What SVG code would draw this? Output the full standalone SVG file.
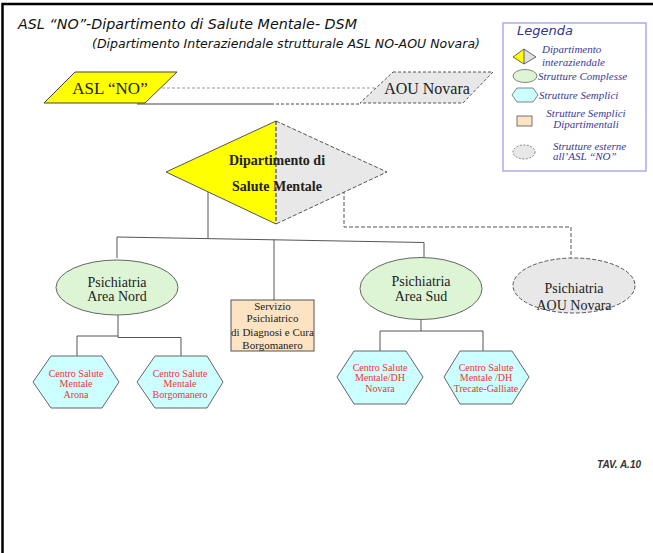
<svg xmlns="http://www.w3.org/2000/svg" width="653" height="553" viewBox="0 0 653 553">
<style>
.ln{fill:none;stroke:#555;stroke-width:1}
.dl{fill:none;stroke:#555;stroke-width:1;stroke-dasharray:4,2}
.nt{font-family:"Liberation Serif","Times New Roman",serif;fill:#222;text-anchor:middle}
.hx{fill:#CCFFFF;stroke:#666;stroke-width:1}
.ht{font-family:"Liberation Serif","Times New Roman",serif;fill:#EE3333;font-size:10px;text-anchor:middle}
.ell{fill:#DDF5D5;stroke:#666;stroke-width:1}
.lg{font-family:"Liberation Serif","Times New Roman",serif;font-style:italic;fill:#3A3A9A;font-size:11px}
.ti{font-family:"Comic Sans MS","DejaVu Sans",sans-serif;font-style:italic;fill:#111}
</style>
<rect width="653" height="553" fill="#fff"/>
<path d="M2.5,553 V4 H653" fill="none" stroke="#000" stroke-width="2.5"/>
<g id="title">
<text class="ti" x="18" y="29" font-size="14" textLength="339" lengthAdjust="spacingAndGlyphs">ASL “NO”-Dipartimento di Salute Mentale- DSM</text>
<text class="ti" x="92" y="48" font-size="12" textLength="388" lengthAdjust="spacingAndGlyphs">(Dipartimento Interaziendale strutturale ASL NO-AOU Novara)</text>
</g>
<g id="connectors">
<line x1="162" y1="88" x2="377" y2="88" stroke="#999" stroke-width="1" stroke-dasharray="3,2"/>
<line x1="137" y1="104" x2="271" y2="104" stroke="#444" stroke-width="1.2"/>
<line x1="271" y1="104" x2="360" y2="104" stroke="#444" stroke-width="1" stroke-dasharray="3,2"/>
<path class="ln" d="M208,192 V238.5"/>
<path class="ln" d="M117,258 V237 L424,242.5 V257"/>
<path class="ln" d="M274,239.6 V300"/>
<path class="dl" d="M344,190 V227 H571 V258"/>
<path class="ln" d="M77,356 V336 H118"/>
<path class="ln" d="M118,315 V337.5 H181 V356"/>
<path class="ln" d="M421,320 V331"/>
<path class="ln" d="M380,351 V331 H483 V351"/>
</g>
<g id="asl-no">
<polygon points="75,72 177,72 145,103 44,103" fill="#FFFF00" stroke="#444" stroke-width="1"/>
<text class="nt" x="110" y="94" font-size="17">ASL “NO”</text>
</g>
<g id="aou-novara">
<polygon points="393,72 493,72 463,103 360,103" fill="#E8E8E8" stroke="#555" stroke-width="1" stroke-dasharray="3,2"/>
<text class="nt" x="427" y="94" font-size="16">AOU Novara</text>
</g>
<g id="dsm">
<polygon points="166,172 276,121 276,224" fill="#FFFF00"/>
<polygon points="276,121 387,172 276,224" fill="#E8E8E8"/>
<path d="M276,224 L166,172 L276,121" fill="none" stroke="#555" stroke-width="1"/>
<path d="M276,121 L387,172 L276,224" fill="none" stroke="#555" stroke-width="1" stroke-dasharray="4,2"/>
<line x1="276" y1="121" x2="276" y2="224" stroke="#222" stroke-width="1" stroke-dasharray="4,2"/>
<text class="nt" x="277" y="165" font-size="14" font-weight="bold">Dipartimento di</text>
<text class="nt" x="277" y="191" font-size="14" font-weight="bold">Salute Mentale</text>
</g>
<g id="area-nord">
<ellipse class="ell" cx="117" cy="287.5" rx="61" ry="27.5"/>
<text class="nt" x="117" y="287" font-size="14">Psichiatria</text>
<text class="nt" x="117" y="301" font-size="14">Area Nord</text>
</g>
<g id="spdc">
<rect x="231" y="300" width="83" height="51" fill="#FDE3C2" stroke="#555" stroke-width="1"/>
<text class="nt" x="272.5" y="310" font-size="11">Servizio</text>
<text class="nt" x="272.5" y="322" font-size="11">Psichiatrico</text>
<text class="nt" x="272.5" y="336" font-size="11">di Diagnosi e Cura</text>
<text class="nt" x="272.5" y="349" font-size="11">Borgomanero</text>
</g>
<g id="area-sud">
<ellipse class="ell" cx="421" cy="288.5" rx="61" ry="31"/>
<text class="nt" x="421" y="286" font-size="14">Psichiatria</text>
<text class="nt" x="421" y="301" font-size="14">Area Sud</text>
</g>
<g id="aou-psichiatria">
<ellipse cx="574" cy="285.5" rx="61" ry="27.5" fill="#E8E8E8" stroke="#555" stroke-width="1" stroke-dasharray="4,2"/>
<text class="nt" x="574" y="293" font-size="14">Psichiatria</text>
<text class="nt" x="574" y="310" font-size="14">AOU Novara</text>
</g>
<g id="csm-arona">
<polygon class="hx" points="33,382 51,356 102,356 119,382 102,408 51,408"/>
<text class="ht" x="76" y="376.5">Centro Salute</text>
<text class="ht" x="76" y="387">Mentale</text>
<text class="ht" x="76" y="397.5">Arona</text>
</g>
<g id="csm-borgomanero">
<polygon class="hx" points="137,382 155,356 207,356 223,382 207,408 155,408"/>
<text class="ht" x="180" y="376.5">Centro Salute</text>
<text class="ht" x="180" y="387">Mentale</text>
<text class="ht" x="180" y="397.5">Borgomanero</text>
</g>
<g id="csm-novara">
<polygon class="hx" points="337,377 354,351 406,351 423,377 406,404 354,404"/>
<text class="ht" x="380" y="370.5">Centro Salute</text>
<text class="ht" x="380" y="381">Mentale/DH</text>
<text class="ht" x="380" y="392">Novara</text>
</g>
<g id="csm-trecate">
<polygon class="hx" points="444,377 460,351 512,351 529,377 512,404 460,404"/>
<text class="ht" x="486" y="370.5">Centro Salute</text>
<text class="ht" x="486" y="381">Mentale /DH</text>
<text class="ht" x="486" y="392">Trecate-Galliate</text>
</g>
<g id="legend">
<rect x="503" y="23" width="143" height="148" fill="#fff" stroke="#AAAAEE" stroke-width="1.5"/>
<text class="ti" x="517" y="35" font-size="13" fill="#333399" style="fill:#333399">Legenda</text>
<polygon points="513,57 524,49 524,64" fill="#FFFF00"/>
<polygon points="524,49 536,57 524,64" fill="#E0E0E0"/>
<polygon points="513,57 524,49 536,57 524,64" fill="none" stroke="#444" stroke-width="0.8"/>
<line x1="524" y1="49" x2="524" y2="64" stroke="#444" stroke-width="0.8"/>
<text class="lg" x="542" y="53">Dipartimento</text>
<text class="lg" x="542" y="66">interaziendale</text>
<ellipse cx="525" cy="76" rx="12" ry="6.5" fill="#DDF5D5" stroke="#666" stroke-width="0.8"/>
<text class="lg" x="538" y="79.5">Strutture Complesse</text>
<polygon points="512,95 517,88 533,88 538,95 533,102 517,102" fill="#CCFFFF" stroke="#666" stroke-width="0.8"/>
<text class="lg" x="539" y="98.5">Strutture Semplici</text>
<rect x="517" y="116" width="15" height="10" fill="#FDE3C2" stroke="#555" stroke-width="0.8"/>
<text class="lg" x="586" y="116.5" text-anchor="middle">Strutture Semplici</text>
<text class="lg" x="586" y="128" text-anchor="middle">Dipartimentali</text>
<ellipse cx="524" cy="152" rx="11" ry="7" fill="#E8E8E8" stroke="#666" stroke-width="0.8" stroke-dasharray="2,1.5"/>
<text class="lg" x="553" y="149.5">Strutture esterne</text>
<text class="lg" x="553" y="160">all’ASL “NO”</text>
</g>
<text x="641" y="468" text-anchor="end" font-family="Liberation Sans, Arial, sans-serif" font-size="10" font-weight="bold" font-style="italic" fill="#333">TAV. A.10</text>
</svg>
